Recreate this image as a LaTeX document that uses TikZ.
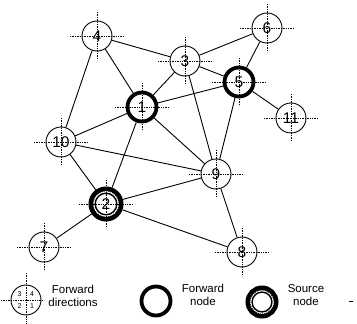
\documentclass[tikz,border=0pt]{standalone}
\usepackage{fontspec}
\setmainfont{Liberation Sans}
\begin{document}
\begin{tikzpicture}[x=1pt,y=-1pt,
  nd/.style={circle,draw,line width=0.9pt,minimum size=30pt,inner sep=0pt,font=\fontsize{15.5}{15.5}\selectfont},
  fwd/.style={nd,line width=3.8pt,minimum size=29pt},
  src/.style={nd,line width=5pt,minimum size=30pt},
  xh/.style={line width=0.8pt,dash pattern=on 1.4pt off 1pt},
  ed/.style={line width=0.9pt},
  lbl/.style={align=center,font=\fontsize{11.5}{13}\selectfont},
  tiny/.style={font=\fontsize{7}{7}\selectfont,inner sep=0pt}]
\useasboundingbox (0,0) rectangle (357,324);
% nodes
\node[nd]  (n4)  at (97,36)  {4};
\node[nd]  (n3)  at (185,61) {3};
\node[nd]  (n6)  at (267,28) {6};
\node[fwd] (n1)  at (142,107) {1};
\node[fwd] (n5)  at (239,82) {5};
\node[nd]  (n11) at (291,118) {11};
\node[nd]  (n10) at (61,142) {10};
\node[nd]  (n9)  at (216,174) {9};
\node[src] (n2)  at (106,204) {2};
\node[nd]  (n7)  at (44,247) {7};
\node[nd]  (n8)  at (242,252) {8};
\draw[white,line width=0.8pt,dash pattern=on 1pt off 1pt] (n2.center) circle (12.6);
\draw[line width=1.4pt] (n2.center) circle (10.8);
% edges
\draw[ed] (n4) -- (n3);
\draw[ed] (n4) -- (n1);
\draw[ed] (n4) -- (n10);
\draw[ed] (n3) -- (n6);
\draw[ed] (n3) -- (n5);
\draw[ed] (n3) -- (n1);
\draw[ed] (n3) -- (n9);
\draw[ed] (n6) -- (n5);
\draw[ed] (n5) -- (n1);
\draw[ed] (n5) -- (n9);
\draw[ed] (n5) -- (n11);
\draw[ed] (n1) -- (n10);
\draw[ed] (n1) -- (n9);
\draw[ed] (n1) -- (n2);
\draw[ed] (n10) -- (n9);
\draw[ed] (n10) -- (n2);
\draw[ed] (n2) -- (n7);
\draw[ed] (n2) -- (n9);
\draw[ed] (n2) -- (n8);
\draw[ed] (n9) -- (n8);
% crosshairs
\foreach \n in {n1,n2,n3,n4,n5,n6,n7,n8,n9,n10,n11}
  \draw[xh] (\n.center) +(-27,0) -- +(27,0) (\n.center) +(0,-24) -- +(0,24);
% legend
\node[nd,minimum size=30pt] (lg1) at (26,300) {};
\draw[xh] (lg1.center) +(-25,0) -- +(18,0) (lg1.center) +(0,-27) -- +(0,26);
\node[tiny] at (19.5,294.5) {3};
\node[tiny] at (32,294.5) {4};
\node[tiny] at (19.5,306) {2};
\node[tiny] at (32,306) {1};
\node[lbl] (t1) at (73,296) {Forward\\directions};
\node[fwd,minimum size=29pt] (lg2) at (156,301) {};
\node[lbl] (t2) at (203,295) {Forward\\node};
\node[src,minimum size=28pt] (lg3) at (262,302) {};
\draw[white,line width=0.8pt,dash pattern=on 1pt off 1pt] (lg3.center) circle (11.6);
\draw[line width=1.4pt] (lg3.center) circle (9.9);
\node[lbl] (t3) at (306,295) {Source\\node};
\draw[line width=0.8pt] (349,301) -- (353,301);
\end{tikzpicture}
\end{document}
